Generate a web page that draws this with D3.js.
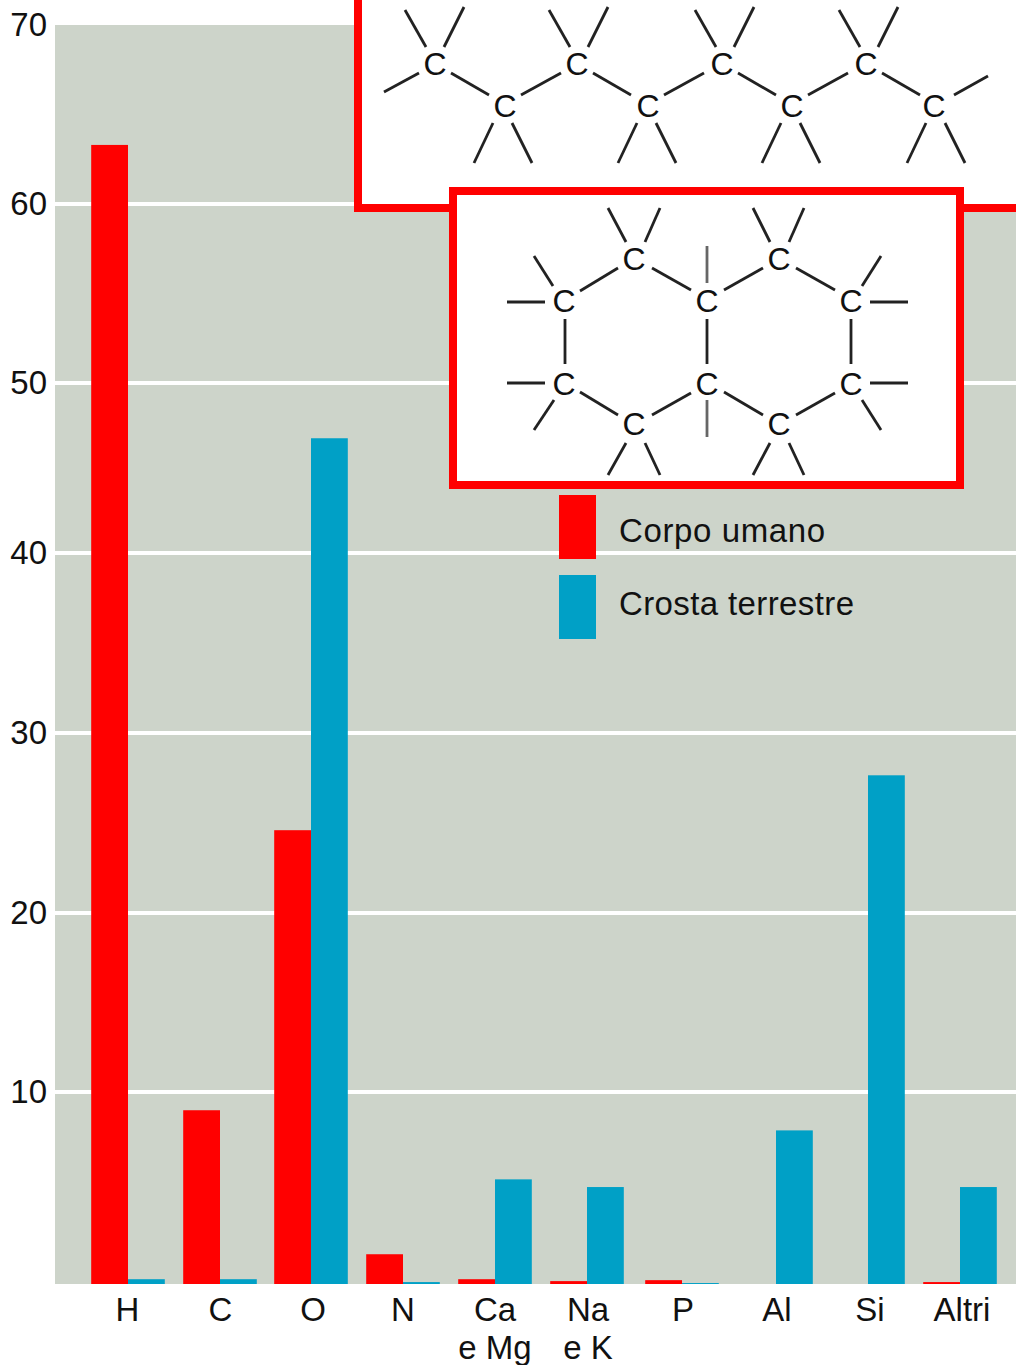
<!DOCTYPE html>
<html><head><meta charset="utf-8">
<script src="https://cdn.jsdelivr.net/npm/d3@7/dist/d3.min.js"></script>
<style>html,body{margin:0;padding:0;background:#fff;overflow:hidden}svg{display:block}text{font-family:"Liberation Sans",Arial,sans-serif;fill:#111}</style>
</head><body><svg id="c" width="1016" height="1365"></svg>
<script>
const categories=[["H"],["C"],["O"],["N"],["Ca","e Mg"],["Na","e K"],["P"],["Al"],["Si"],["Altri"]];
const seriesNames=["Corpo umano","Crosta terrestre"];
const corpoUmano=[63.3,9.05,24.6,1.55,0.25,0.15,0.2,0,0,0.1];
const crostaTerrestre=[0.25,0.25,46.75,0.1,5.45,5.05,0.05,8,27.65,5.05];
const yTicks=[10,20,30,40,50,60,70];

const RED="#ff0000",BLUE="#00a0c6",BG="#cdd4ca",FS=33;
const svg=d3.select("#c");
const y=d3.scaleLinear().domain([0,10,20,30,40,50,60,70]).range([1284,1092,913,733,553,383,204,25]);
const names=categories.map(c=>c[0]);
const x=d3.scaleOrdinal().domain(names).range([128,220,311,403,495,587,682,776,868,960]);
const xLabel=d3.scaleOrdinal().domain(names).range([127.5,220.5,313,403,495,588,683,777,870,962]);
const barW=36.8;

svg.append("rect").attr("x",55).attr("y",y(70)).attr("width",961).attr("height",y(0)-y(70)).attr("fill",BG);

const yAxis=d3.axisLeft(y).tickValues(yTicks).tickSize(0).tickPadding(0).tickFormat(d3.format("d"));
const ga=svg.append("g").attr("transform","translate(47,0)").call(yAxis);
ga.select(".domain").remove();
ga.selectAll("text").attr("font-size",FS).attr("font-family","Liberation Sans").attr("fill","#111").attr("dy","0.32em");

svg.append("g").selectAll("line").data(yTicks.filter(d=>d<70)).join("line")
  .attr("x1",55).attr("x2",1016).attr("y1",d=>y(d)).attr("y2",d=>y(d)).attr("stroke","#fff").attr("stroke-width",4);

const bars=(vals,dx,col)=>svg.append("g").selectAll("rect").data(vals.map((v,i)=>({v,n:names[i]}))).join("rect")
  .attr("x",d=>x(d.n)+dx).attr("width",barW).attr("y",d=>y(d.v)).attr("height",d=>y(0)-y(d.v)).attr("fill",col);
bars(corpoUmano,-barW,RED);
bars(crostaTerrestre,0,BLUE);

const xl=svg.append("g").attr("font-size",FS).attr("text-anchor","middle");
categories.forEach(c=>c.forEach((t,j)=>xl.append("text").attr("x",xLabel(c[0])).attr("y",1320.5+j*38).text(t)));

// legend
[RED,BLUE].forEach((col,i)=>{
  svg.append("rect").attr("x",559).attr("y",495+i*80).attr("width",37).attr("height",64).attr("fill",col);
});
seriesNames.forEach((t,i)=>svg.append("text").attr("x",619).attr("y",542+i*73).attr("font-size",FS).attr("textLength",i?235:206).text(t));

// chain molecule inset
svg.append("rect").attr("x",358).attr("y",-10).attr("width",670).attr("height",218).attr("fill","#fff").attr("stroke",RED).attr("stroke-width",8);
const mol=svg.append("g").attr("stroke-width",2.8);
const seg=(a,b,c,d,col)=>mol.append("line").attr("x1",a).attr("y1",b).attr("x2",c).attr("y2",d).attr("stroke",col||"#222");
const labels=svg.append("g");
const label=(cx,cy,fs)=>labels.append("text").attr("x",cx).attr("y",cy+fs*0.36).attr("font-size",fs).attr("text-anchor","middle").text("C");
const tops=[435,577,722,866], topBonds=[435,579,725,869];
const bots=[505,648,792,934], botBonds=[505,649,793,938];
tops.forEach((t,i)=>{
  const b=topBonds[i];
  seg(b-30,10,b-9,47); seg(b+29,7,b+9,47);
  seg(t+16,73,t+54,95);
  if(i===0) seg(t-51,92,t-16,73);
  label(t,63,32);
});
bots.forEach((c,i)=>{
  const b=botBonds[i];
  seg(b-12,123,b-31,163); seg(b+7,123,b+27,163);
  if(i<3) seg(c+16,95,c+56,73); else seg(c+20,95,c+54,76);
  label(c,105,32);
});

// ring molecule inset
svg.append("rect").attr("x",453).attr("y",191).attr("width",507).attr("height",294).attr("fill","#fff").attr("stroke",RED).attr("stroke-width",8);
mol.raise(); labels.raise();
const ring=[
[534,256,553,286],[507,302,545,302],[565,319,565,364],[507,383,545,383],[554,400,534,430],
[580,291,618,268],[652,268,691,290],[608,208,626,242],[660,208,645,242],
[707,319,707,364],[724,290,763,268],[796,268,835,290],[753,208,770,242],[804,208,789,242],
[862,286,881,256],[870,302,908,302],[851,319,851,364],[870,383,908,383],[862,400,881,430],
[580,392,618,415],[652,415,691,393],[724,392,763,415],[796,415,835,393],
[626,443,608,475],[645,443,660,475],[770,443,753,475],[789,443,804,475]];
ring.forEach(s=>seg(...s));
seg(707,246,707,283,"#666");seg(707,400,707,437,"#666");
[[564,300],[634,258],[707,300],[779,258],[851,300],[564,383],[634,423],[707,383],[779,423],[851,383]].forEach(p=>label(p[0],p[1],32));
</script></body></html>
